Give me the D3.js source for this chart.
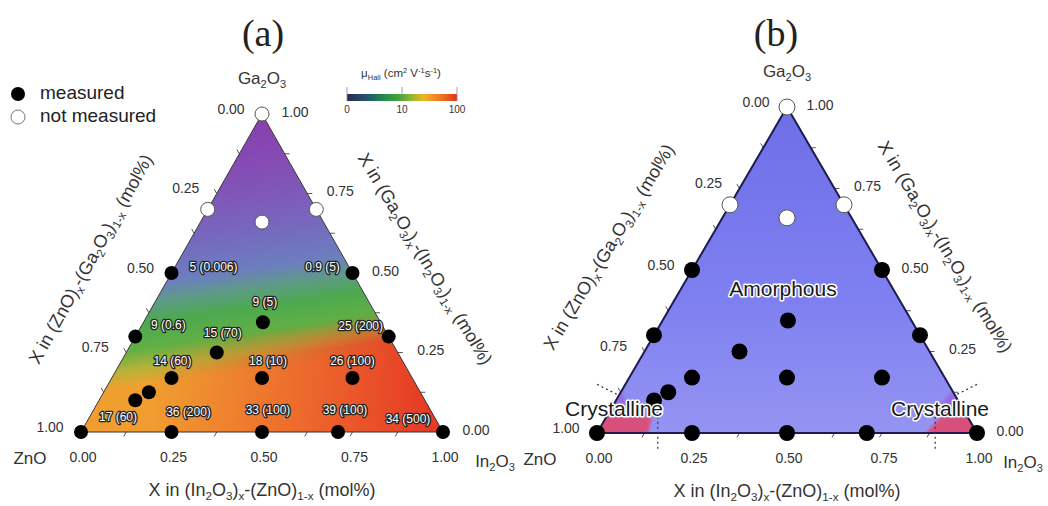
<!DOCTYPE html>
<html>
<head>
<meta charset="utf-8">
<script src="https://cdn.jsdelivr.net/npm/d3@7"></script>
<style>
  body { margin: 0; background: #fff; }
  svg text { font-family: "Liberation Sans", Arial, sans-serif; fill: #333; }
</style>
</head>
<body>
<div id="chart"></div>
<script>
// compositions of the measured films: In2O3 and Ga2O3 fractions (ZnO = 1 - In - Ga)
const measuredIn = [0, 0.25, 0.5, 0.71, 1, 0.10, 0.125, 0.165, 0.415, 0.665, 0.25, 0, 0.70, 0.33, 0, 0.5];
const measuredGa = [0, 0, 0, 0, 0, 0.10, 0.125, 0.17, 0.17, 0.17, 0.25, 0.30, 0.30, 0.345, 0.5, 0.5];
// Hall mobility and (carrier density) written beside each point
const mobility = [17, 36, 33, 39, 34, null, null, 14, 18, 26, 15, 9, 25, 9, 5, 0.9];
const carrier = [60, 200, 100, 100, 500, null, null, 60, 10, 100, 70, 0.6, 200, 5, 0.006, 5];
// films that were not measured
const notMeasuredIn = [0, 0, 0.3, 0.17];
const notMeasuredGa = [1, 0.7, 0.7, 0.66];
const axisTicks = [0, 0.25, 0.5, 0.75, 1];
const cbarTicks = ["0", "10", "100"];
// In2O3 fraction where the crystalline regions of (b) end
const crystallineLimit = [0.135, 0.865];

// label placement next to each point (px), layout only
const labelOffset = [[37,-14],[17,-19],[6,-21],[7,-21],[-35,-12],null,null,[1,-16],[6,-16],[0,-16],[6,-19],[33,-11],[-28,-10],[2,-19],[42,-5],[-30,-5]];

const W = 1048, H = 506;
const svg = d3.select("#chart").append("svg").attr("width", W).attr("height", H);
const defs = svg.append("defs");
const fmt = d3.format(".2f");

// text with sub / superscripts
function rich(text, parts, fs) {
  let shift = 0;
  parts.forEach(([s, t]) => {
    const target = t === "sub" ? fs * 0.22 : t === "sup" ? -fs * 0.38 : 0;
    text.append("tspan")
      .attr("dy", target - shift)
      .attr("font-size", t ? fs * 0.65 : fs)
      .text(s);
    shift = target;
  });
}

const leftTitle = [["X in (ZnO)"],["x","sub"],["-(Ga"],["2","sub"],["O"],["3","sub"],[")"],["1-x","sub"],[" (mol%)"]];
const rightTitle = [["X in (Ga"],["2","sub"],["O"],["3","sub"],[")"],["x","sub"],["-(In"],["2","sub"],["O"],["3","sub"],[")"],["1-x","sub"],[" (mol%)"]];
const bottomTitle = [["X in (In"],["2","sub"],["O"],["3","sub"],[")"],["x","sub"],["-(ZnO)"],["1-x","sub"],[" (mol%)"]];
const gaName = [["Ga"],["2","sub"],["O"],["3","sub"]];
const inName = [["In"],["2","sub"],["O"],["3","sub"]];

function panel(cfg) {
  const g = svg.append("g");
  const sx = d3.scaleLinear().domain([0, 1]).range([cfg.x0, cfg.x1]);
  const sy = d3.scaleLinear().domain([0, 1]).range([cfg.yb, cfg.yt]);
  const pt = (a, b) => [sx(a + b / 2), sy(b)];
  const tri = [pt(0, 0), pt(1, 0), pt(0, 1)];
  const line = d3.line();

  g.append("clipPath").attr("id", cfg.id + "clip")
    .append("path").attr("d", line(tri) + "Z");
  const body = g.append("g").attr("clip-path", `url(#${cfg.id}clip)`);
  cfg.fill(body, pt, tri);

  // axis ticks, styled after ternary plots: each tick parallel to the next axis
  const minor = d3.range(1, 8).map(i => i / 8);
  const tk = 5;
  minor.forEach(v => {
    let p = pt(v, 0);
    g.append("line").attr("x1", p[0]).attr("y1", p[1]).attr("x2", p[0] - tk * 0.5).attr("y2", p[1] + tk * 0.87);
    p = pt(1 - v, v);
    g.append("line").attr("x1", p[0]).attr("y1", p[1]).attr("x2", p[0] + tk).attr("y2", p[1]);
    p = pt(0, 1 - v);
    g.append("line").attr("x1", p[0]).attr("y1", p[1]).attr("x2", p[0] - tk * 0.5).attr("y2", p[1] - tk * 0.87);
  });
  g.selectAll("line").attr("stroke", "#555").attr("stroke-width", 1);

  g.append("path").attr("d", line(tri) + "Z")
    .attr("fill", "none").attr("stroke", cfg.edge).attr("stroke-width", cfg.edgeW);

  if (cfg.extra) cfg.extra(g, pt);

  // tick labels
  axisTicks.forEach(v => {
    let p = pt(0, 1 - v);
    g.append("text").attr("x", p[0] - 31).attr("y", p[1] - 4).attr("text-anchor", "middle")
      .attr("dominant-baseline", "middle").attr("font-size", 14).text(fmt(v));
    p = pt(1 - v, v);
    g.append("text").attr("x", p[0] + 33).attr("y", p[1] - 1).attr("text-anchor", "middle")
      .attr("dominant-baseline", "middle").attr("font-size", 14).text(fmt(v));
    p = pt(v, 0);
    g.append("text").attr("x", p[0] + 2).attr("y", cfg.yb + 26).attr("text-anchor", "middle")
      .attr("dominant-baseline", "middle").attr("font-size", 14).text(fmt(v));
  });

  // corner names
  const top = pt(0, 1);
  rich(g.append("text").attr("x", top[0]).attr("y", cfg.yt - 30).attr("text-anchor", "middle")
    .attr("font-size", 17), gaName, 17);
  g.append("text").attr("x", cfg.x0 - cfg.znoDx).attr("y", cfg.yb + 32).attr("text-anchor", "middle")
    .attr("font-size", 17).text("ZnO");
  rich(g.append("text").attr("x", cfg.x1 + cfg.inDx).attr("y", cfg.yb + 35).attr("text-anchor", "middle")
    .attr("font-size", 17), inName, 17);

  // axis titles
  rich(g.append("text").attr("text-anchor", "middle").attr("font-size", 18)
    .attr("transform", `translate(${cfg.lt[0]},${cfg.lt[1]}) rotate(${cfg.lt[2]})`), leftTitle, 18);
  rich(g.append("text").attr("text-anchor", "middle").attr("font-size", 18)
    .attr("transform", `translate(${cfg.rt[0]},${cfg.rt[1]}) rotate(${cfg.rt[2]})`), rightTitle, 18);
  rich(g.append("text").attr("text-anchor", "middle").attr("font-size", 18)
    .attr("x", (cfg.x0 + cfg.x1) / 2).attr("y", cfg.yb + 64), bottomTitle, 18);

  // panel letter
  g.append("text").attr("x", cfg.letterX).attr("y", 46).attr("text-anchor", "middle")
    .style("font-family", "'Liberation Serif', 'Times New Roman', serif")
    .attr("font-size", 38).style("fill", "#222").text(cfg.letter);

  // points
  g.selectAll(".nm").data(notMeasuredIn).join("circle")
    .attr("cx", (d, i) => pt(d, notMeasuredGa[i])[0])
    .attr("cy", (d, i) => pt(d, notMeasuredGa[i])[1])
    .attr("r", cfg.r).attr("fill", "#fff").attr("stroke", "#555").attr("stroke-width", 1);
  g.selectAll(".m").data(measuredIn).join("circle")
    .attr("cx", (d, i) => pt(d, measuredGa[i])[0])
    .attr("cy", (d, i) => pt(d, measuredGa[i])[1])
    .attr("r", cfg.r).attr("fill", "#000");

  return { g, pt };
}

// ---------- panel (a): Hall mobility map ----------
const a = panel({
  id: "a", x0: 81, x1: 443, yb: 432, yt: 114, r: 7,
  edge: "#333", edgeW: 1, letter: "(a)", letterX: 263,
  znoDx: 51, inDx: 52,
  lt: [96, 262, -61], rt: [420, 262, 59],
  fill(body, pt, tri) {
    const tilt = defs.append("linearGradient").attr("id", "muField")
      .attr("gradientUnits", "userSpaceOnUse")
      .attr("x1", 245).attr("y1", 114).attr("x2", 290).attr("y2", 432);
    [[0, "#8a3cae"], [0.2, "#8350b6"], [0.35, "#7866bd"], [0.48, "#6c7ec0"],
     [0.54, "#5e9a86"], [0.6, "#4ca94f"], [0.68, "#62b043"], [0.74, "#b7b338"],
     [0.79, "#efa030"], [1, "#f39a30"]]
      .forEach(([o, c]) => tilt.append("stop").attr("offset", o).attr("stop-color", c));
    const redX = defs.append("linearGradient").attr("id", "redX")
      .attr("gradientUnits", "userSpaceOnUse").attr("x1", 150).attr("y1", 0).attr("x2", 430).attr("y2", 0);
    redX.append("stop").attr("offset", 0).attr("stop-color", "#e8402a").attr("stop-opacity", 0);
    redX.append("stop").attr("offset", 0.45).attr("stop-color", "#e8402a").attr("stop-opacity", 0.45);
    redX.append("stop").attr("offset", 1).attr("stop-color", "#e63a26").attr("stop-opacity", 1);
    const maskG = defs.append("linearGradient").attr("id", "lowMaskG")
      .attr("gradientUnits", "userSpaceOnUse")
      .attr("x1", 245).attr("y1", 114).attr("x2", 290).attr("y2", 432);
    maskG.append("stop").attr("offset", 0.67).attr("stop-color", "#000");
    maskG.append("stop").attr("offset", 0.76).attr("stop-color", "#fff");
    defs.append("mask").attr("id", "lowMask").attr("maskUnits", "userSpaceOnUse")
      .attr("x", 0).attr("y", 0).attr("width", W).attr("height", H)
      .append("rect").attr("width", W).attr("height", H).attr("fill", "url(#lowMaskG)");
    const d = d3.line()(tri) + "Z";
    body.append("path").attr("d", d).attr("fill", "url(#muField)");
    body.append("path").attr("d", d).attr("fill", "url(#redX)").attr("mask", "url(#lowMask)");
  }
});

// value labels beside points
mobility.forEach((m, i) => {
  if (m === null) return;
  const p = a.pt(measuredIn[i], measuredGa[i]);
  a.g.append("text")
    .attr("x", p[0] + labelOffset[i][0]).attr("y", p[1] + labelOffset[i][1])
    .attr("text-anchor", "middle").attr("dominant-baseline", "middle")
    .attr("font-size", 12)
    .style("fill", "#fff").style("stroke", "#222").style("stroke-width", 2.6)
    .style("paint-order", "stroke").style("stroke-linejoin", "round")
    .text(`${m} (${carrier[i]})`);
});

// legend
const leg = svg.append("g");
leg.append("circle").attr("cx", 18).attr("cy", 94).attr("r", 7).attr("fill", "#000");
leg.append("text").attr("x", 40).attr("y", 94).attr("dominant-baseline", "middle")
  .attr("font-size", 19).style("fill", "#222").text("measured");
leg.append("circle").attr("cx", 18).attr("cy", 117).attr("r", 7)
  .attr("fill", "#fff").attr("stroke", "#777").attr("stroke-width", 1);
leg.append("text").attr("x", 40).attr("y", 117).attr("dominant-baseline", "middle")
  .attr("font-size", 19).style("fill", "#222").text("not measured");

// colour bar
const cb = svg.append("g");
const cbX = d3.scalePoint().domain(cbarTicks).range([347, 457]);
const cbG = defs.append("linearGradient").attr("id", "cbar");
[[0, "#2e2a58"], [0.18, "#22556a"], [0.33, "#23884f"], [0.48, "#45a63a"], [0.6, "#9fb832"],
 [0.7, "#eeb424"], [0.84, "#f07a22"], [1, "#e03818"]]
  .forEach(([o, c]) => cbG.append("stop").attr("offset", o).attr("stop-color", c));
cb.append("rect").attr("x", cbX("0")).attr("y", 94).attr("width", cbX("100") - cbX("0")).attr("height", 7)
  .attr("fill", "url(#cbar)");
cbarTicks.forEach(t => {
  cb.append("line").attr("x1", cbX(t)).attr("x2", cbX(t)).attr("y1", 87).attr("y2", 101)
    .attr("stroke", "#888").attr("stroke-width", 0.8);
  cb.append("text").attr("x", cbX(t)).attr("y", 110).attr("text-anchor", "middle")
    .attr("dominant-baseline", "middle").attr("font-size", 10).text(t);
});
rich(cb.append("text").attr("x", 401).attr("y", 77).attr("text-anchor", "middle").attr("font-size", 11.5),
  [["μ"], ["Hall", "sub"], [" (cm"], ["2", "sup"], [" V"], ["-1", "sup"], ["s"], ["-1", "sup"], [")"]], 11.5);

// ---------- panel (b): amorphous / crystalline ----------
const b = panel({
  id: "b", x0: 597, x1: 977, yb: 433, yt: 107, r: 8,
  edge: "#1c1c4e", edgeW: 2, letter: "(b)", letterX: 776,
  znoDx: 57, inDx: 46,
  lt: [614, 250, -59], rt: [940, 250, 59],
  fill(body, pt, tri) {
    const bg = defs.append("linearGradient").attr("id", "amorph")
      .attr("x1", 0).attr("y1", 0).attr("x2", 0).attr("y2", 1);
    bg.append("stop").attr("offset", 0).attr("stop-color", "#6e6ee8");
    bg.append("stop").attr("offset", 0.6).attr("stop-color", "#7f80f0");
    bg.append("stop").attr("offset", 1).attr("stop-color", "#9494f2");
    body.append("path").attr("d", d3.line()(tri) + "Z").attr("fill", "url(#amorph)");
    defs.append("filter").attr("id", "soft").attr("x", -0.5).attr("y", -0.5).attr("width", 2).attr("height", 2)
      .append("feGaussianBlur").attr("stdDeviation", 1.8);
    const [lo, hi] = crystallineLimit;
    // violet haze where the phases meet
    const haze = [[[0, 0.04], [0, 0.13], [0.04, 0.08], [lo - 0.03, 0.04]],
                  [[1 - 0.04, 0.04], [1 - 0.13, 0.13], [hi - 0.01, 0.07], [hi + 0.03, 0.04]]];
    haze.forEach(h => body.append("path").attr("d", d3.line()(h.map(q => pt(q[0], q[1]))) + "Z")
      .attr("fill", "#a050d8").attr("opacity", 0.55).attr("filter", "url(#soft)"));
    const pink = [[[-0.05, -0.02], [0, 0.05], [lo - 0.015, 0.05], [lo + 0.005, -0.02]],
                  [[hi - 0.005, -0.02], [hi + 0.015, 0.05], [0.95, 0.05], [1.05, -0.02]]];
    pink.forEach(p => body.append("path").attr("d", d3.line()(p.map(q => pt(q[0], q[1]))) + "Z")
      .attr("fill", "#d94f7c").attr("filter", "url(#soft)"));
  },
  extra(g, pt) {
    const [lo, hi] = crystallineLimit;
    const dash = sel => sel.attr("stroke", "#333").attr("stroke-width", 1.2).attr("stroke-dasharray", "2,3");
    let p = pt(0, 0.125);
    dash(g.append("line").attr("x1", p[0] - 4).attr("y1", p[1] + 2).attr("x2", p[0] - 24).attr("y2", p[1] - 8));
    p = pt(1 - 0.125, 0.125);
    dash(g.append("line").attr("x1", p[0] + 4).attr("y1", p[1] + 2).attr("x2", p[0] + 24).attr("y2", p[1] - 8));
    [lo, hi].forEach(v => {
      const q = pt(v, 0.05);
      dash(g.append("line").attr("x1", q[0]).attr("y1", q[1]).attr("x2", q[0]).attr("y2", q[1] + 34));
    });
  }
});

const halo = sel => sel.attr("text-anchor", "middle").attr("dominant-baseline", "middle")
  .attr("font-size", 21).style("fill", "#1a1a1a").style("stroke", "#fff").style("stroke-width", 3)
  .style("paint-order", "stroke").style("stroke-linejoin", "round");
halo(b.g.append("text").attr("x", 783).attr("y", 290).text("Amorphous"));
halo(b.g.append("text").attr("x", 614).attr("y", 410).text("Crystalline"));
halo(b.g.append("text").attr("x", 940).attr("y", 410).text("Crystalline"));
</script>
</body>
</html>
